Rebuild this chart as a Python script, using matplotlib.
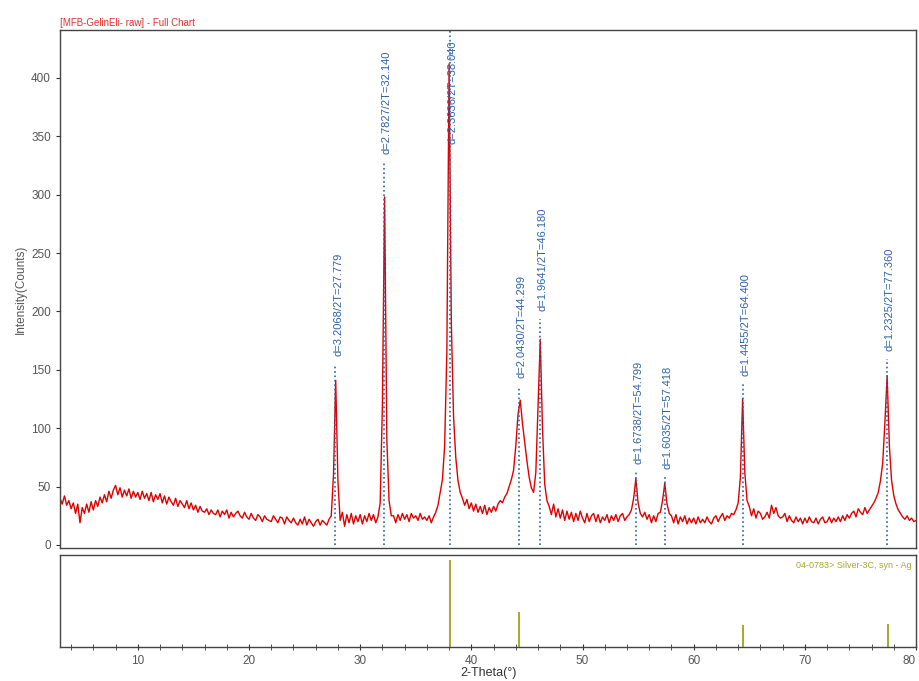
import numpy as np
import matplotlib
matplotlib.use("Agg")
import matplotlib.pyplot as plt

plt.rcParams['font.family'] = ['Liberation Sans', 'DejaVu Sans']

# scan: 3 to 80 deg 2-theta, step 0.2
start, step = 3.0, 0.2
counts = [
    40, 35, 42, 34, 38,  31, 36, 27, 35, 19,  32, 27, 35, 28, 37,   # 3-5
    30, 38, 33, 41, 36,  43, 37, 46, 40, 47,  51, 43, 49, 41, 47,   # 6-8
    42, 48, 40, 46, 41,  45, 39, 46, 40, 44,  38, 45, 37, 43, 39,   # 9-11
    44, 36, 42, 35, 41,  37, 34, 40, 33, 38,  35, 32, 38, 31, 36,   # 12-14
    30, 34, 28, 33, 29,  28, 31, 26, 30, 27,  26, 30, 24, 29, 26,   # 15-17
    30, 23, 28, 24, 27,  29, 25, 23, 28, 24,  22, 27, 23, 21, 26,   # 18-20
    24, 20, 25, 22, 21,  20, 25, 22, 19, 24,  23, 18, 24, 21, 19,   # 21-23
    23, 19, 17, 22, 18,  24, 17, 22, 19, 16,  20, 22, 17, 21, 19,   # 24-26
    17, 22, 25, 60, 141, 55, 21, 28, 16, 26,  19, 27, 18, 25, 20,   # 27-29
    26, 18, 25, 20, 27,  21, 26, 19, 24, 36,  120, 298, 90, 38, 25, # 30-32
    25, 19, 26, 21, 27,  22, 26, 20, 27, 23,  25, 21, 27, 22, 24,   # 33-35
    21, 25, 19, 24, 28,  34, 45, 56, 85, 167, 412, 190, 110, 75, 55,  # 36-38
    45, 40, 34, 39, 31,  36, 29, 35, 28, 33,  27, 34, 26, 32, 28,   # 39-41
    33, 29, 35, 38, 36,  41, 44, 50, 56, 64,  85, 112, 124, 104, 88,  # 42-44
    72, 58, 49, 45, 62,  120, 176, 100, 52, 38,  33, 26, 35, 24, 31,  # 45-47
    23, 30, 21, 29, 22,  28, 20, 27, 21, 29,  23, 19, 27, 20, 25,   # 48-50
    27, 20, 26, 19, 24,  21, 26, 19, 25, 21,  26, 20, 25, 27, 21,   # 51-53
    24, 26, 30, 40, 57,  36, 27, 24, 28, 22,  26, 19, 25, 20, 27,   # 54-56
    28, 38, 53, 35, 27,  25, 19, 26, 18, 24,  20, 25, 18, 23, 19,   # 57-59
    23, 18, 24, 19, 22,  19, 24, 20, 18, 23,  25, 20, 24, 27, 21,   # 60-62
    25, 23, 27, 26, 30,  36, 58, 125, 62, 38,  33, 25, 31, 23, 29,  # 63-65
    27, 22, 24, 28, 23,  34, 27, 32, 25, 23,  24, 27, 20, 25, 21,   # 66-68
    19, 24, 20, 23, 18,  23, 19, 24, 20, 19,  23, 18, 22, 24, 19,   # 69-71
    20, 24, 19, 23, 20,  24, 20, 25, 21, 26,  23, 27, 29, 24, 31,   # 72-74
    28, 26, 32, 27, 30,  33, 36, 40, 45, 55,  70, 105, 145, 85, 55, # 75-77
    42, 35, 30, 27, 24,  22, 25, 21, 23, 20,  21,                   # 78-80
]
two_theta = start + step * np.arange(len(counts))

# peak search results
peak_pos = [27.779, 32.140, 38.040, 44.299, 46.180, 54.799, 57.418, 64.400, 77.360]
peak_d = [3.2068, 2.7827, 2.3636, 2.0430, 1.9641, 1.6738, 1.6035, 1.4455, 1.2325]
peak_h = [141, 298, 412, 124, 176, 57, 53, 125, 145]

# reference card 04-0783 Silver-3C, syn - Ag
ref_pos = [38.116, 44.277, 64.426, 77.472]
ref_int = [100, 40, 25, 26]

red = '#e00000'
blue = '#2f62a8'
olive = '#a8a82a'
grey = '#555555'

fig = plt.figure(figsize=(9.2, 6.81), dpi=100)
ax = fig.add_axes([0.0652, 0.1953, 0.9305, 0.7607])
ax2 = fig.add_axes([0.0652, 0.0500, 0.9305, 0.1350])

ax.plot(two_theta, counts, color=red, lw=1.0)

ytop = 441
for x, d, h in zip(peak_pos, peak_d, peak_h):
    ax.plot([x, x], [0, 1.1 * h], color=blue, ls=':', lw=1.2)
    base = min(1.1 * h + 7, ytop - 98)
    ax.text(x + 0.25, base, 'd=%.4f/2T=%.3f' % (d, x), rotation=90,
            ha='center', va='bottom', fontsize=8, color=blue)

ax.set_xlim(3, 80)
ax.set_ylim(-2.6, ytop)
ax.set_xticks([])
ax.set_yticks(range(0, 401, 50))
ax.tick_params(axis='y', labelsize=8.5, labelcolor=grey, length=3, color='#333333')
ax.set_ylabel('Intensity(Counts)', fontsize=8.5, color=grey, labelpad=3)
for s in ax.spines.values():
    s.set_color('#444444')
    s.set_linewidth(1.0)
ax.text(0.0, 1.004, '[MFB-GelinEli- raw] - Full Chart', transform=ax.transAxes,
        fontsize=7, color='#e03030', ha='left', va='bottom')

ax2.vlines(ref_pos, 0, ref_int, color=olive, lw=1.4)
ax2.set_xlim(3, 80)
ax2.set_ylim(0, 105.7)
ax2.set_yticks([])
ax2.set_xticks(range(10, 81, 10))
ax2.set_xticks(range(4, 80, 2), minor=True)
ax2.tick_params(axis='x', which='both', direction='inout', length=5,
                labelsize=8.5, labelcolor=grey, color='#333333')
ax2.get_xticklabels()[-1].set_horizontalalignment('right')
ax2.set_xlabel('2-Theta(°)', fontsize=9, color='#333333', labelpad=0)
for s in ax2.spines.values():
    s.set_color('#444444')
    s.set_linewidth(1.0)
ax2.text(0.995, 0.94, '04-0783> Silver-3C, syn - Ag', transform=ax2.transAxes,
         fontsize=6.5, color=olive, ha='right', va='top')

fig.savefig('out.png', dpi=100)
